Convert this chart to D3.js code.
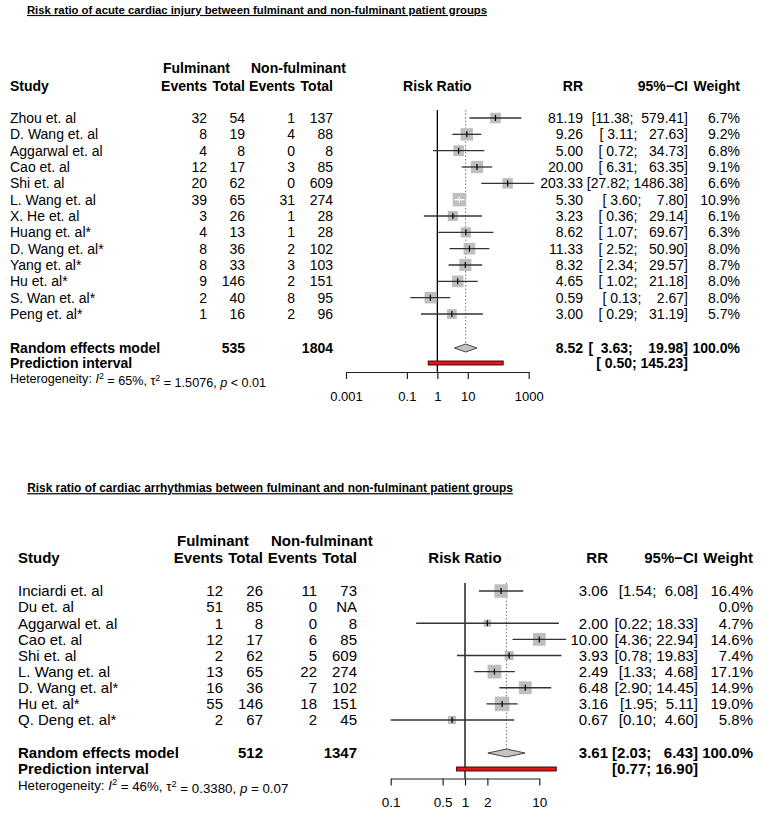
<!DOCTYPE html>
<html><head><meta charset="utf-8">
<script src="https://cdn.jsdelivr.net/npm/d3@7"></script>
<style>
body{margin:0;background:#fff}
svg text{font-family:"Liberation Sans",Arial,Helvetica,sans-serif;fill:#000}
</style>
</head><body>
<svg id="chart" width="764" height="814"></svg>
<script>
// ---------- Panel 1: acute cardiac injury ----------
const p1Title = "Risk ratio of acute cardiac injury between fulminant and non-fulminant patient groups";
const p1Studies = ["Zhou et. al","D. Wang et. al","Aggarwal et. al","Cao et. al","Shi et. al","L. Wang et. al","X. He et. al","Huang et. al*","D. Wang et. al*","Yang et. al*","Hu et. al*","S. Wan et. al*","Peng et. al*"];
const p1EventsF = [32,8,4,12,20,39,3,4,8,8,9,2,1];
const p1TotalF  = [54,19,8,17,62,65,26,13,36,33,146,40,16];
const p1EventsN = [1,4,0,3,0,31,1,1,2,3,2,8,2];
const p1TotalN  = [137,88,8,85,609,274,28,28,102,103,151,95,96];
const p1RR      = [81.19,9.26,5.00,20.00,203.33,5.30,3.23,8.62,11.33,8.32,4.65,0.59,3.00];
const p1Lower   = [11.38,3.11,0.72,6.31,27.82,3.60,0.36,1.07,2.52,2.34,1.02,0.13,0.29];
const p1Upper   = [579.41,27.63,34.73,63.35,1486.38,7.80,29.14,69.67,50.90,29.57,21.18,2.67,31.19];
const p1Weight  = [6.7,9.2,6.8,9.1,6.6,10.9,6.1,6.3,8.0,8.7,8.0,8.0,5.7];
const p1Summary = [8.52,3.63,19.98];       // RR, lower, upper
const p1Predict = [0.50,145.23];           // lower, upper
const p1Totals  = [535,1804];
const p1Het     = ["65%","1.5076","< 0.01"];
const p1Ticks   = [0.001,0.1,1,10,1000];
const p1TickLabels = ["0.001","0.1","1","10","1000"];

// ---------- Panel 2: cardiac arrhythmias ----------
const p2Title = "Risk ratio of cardiac arrhythmias between fulminant and non-fulminant patient groups";
const p2Studies = ["Inciardi et. al","Du et. al","Aggarwal et. al","Cao et. al","Shi et. al","L. Wang et. al","D. Wang et. al*","Hu et. al*","Q. Deng et. al*"];
const p2EventsF = [12,51,1,12,2,13,16,55,2];
const p2TotalF  = [26,85,8,17,62,65,36,146,67];
const p2EventsN = [11,0,0,6,5,22,7,18,2];
const p2TotalN  = [73,"NA",8,85,609,274,102,151,45];
const p2RR      = [3.06,null,2.00,10.00,3.93,2.49,6.48,3.16,0.67];
const p2Lower   = [1.54,null,0.22,4.36,0.78,1.33,2.90,1.95,0.10];
const p2Upper   = [6.08,null,18.33,22.94,19.83,4.68,14.45,5.11,4.60];
const p2Weight  = [16.4,0.0,4.7,14.6,7.4,17.1,14.9,19.0,5.8];
const p2Summary = [3.61,2.03,6.43];
const p2Predict = [0.77,16.90];
const p2Totals  = [512,1347];
const p2Het     = ["46%","0.3380","= 0.07"];
const p2Ticks   = [0.1,0.5,1,2,10];
const p2TickLabels = ["0.1","0.5","1","2","10"];

const svg = d3.select("#chart");

function txt(g, x, y, s, anchor, bold, size){
  return g.append("text").attr("x", x).attr("y", y).attr("dy","0.35em")
    .attr("text-anchor", anchor).attr("font-size", size)
    .attr("font-weight", bold ? "bold" : "normal")
    .style("white-space","pre").text(s);
}
function fmtCI(lo, hi, wl, wh){
  return "[" + lo.toFixed(2).padStart(wl," ") + "; " + hi.toFixed(2).padStart(wh," ") + "]";
}

function drawPanel(d, L){
  const g = svg.append("g");
  const fs = L.fs;
  // title
  g.append("text").attr("x", L.titleX).attr("y", L.titleY).attr("dy","0.35em")
    .attr("text-anchor","middle").attr("font-size", L.titleFs).attr("font-weight","bold")
    .attr("text-decoration","underline").text(d.title);

  // headers
  txt(g, L.colFEv - L.evW, L.head1Y, "Fulminant", "start", true, fs);
  txt(g, L.colNEv - L.evW, L.head1Y, "Non-fulminant", "start", true, fs);
  txt(g, L.studyX, L.head2Y, "Study", "start", true, fs);
  txt(g, L.colFEv, L.head2Y, "Events", "end", true, fs);
  txt(g, L.colFTot, L.head2Y, "Total", "end", true, fs);
  txt(g, L.colNEv, L.head2Y, "Events", "end", true, fs);
  txt(g, L.colNTot, L.head2Y, "Total", "end", true, fs);
  txt(g, (L.plotX0 + L.plotX1)/2, L.head2Y, "Risk Ratio", "middle", true, fs);
  txt(g, L.colRR, L.head2Y, "RR", "end", true, fs);
  txt(g, L.colCI, L.head2Y, "95%\u2212CI", "end", true, fs);
  txt(g, L.colW, L.head2Y, "Weight", "end", true, fs);

  const n = d.studies.length;
  const y = d3.scaleLinear().domain([0, n-1]).range([L.row0, L.rowN]);
  const x = d3.scaleLog().domain([d.ticks[0], d.ticks[d.ticks.length-1]]).range([L.plotX0, L.plotX1]);
  const wmax = d3.max(d.weight);

  // reference lines
  g.append("line").attr("x1", x(1)).attr("x2", x(1)).attr("y1", L.row0 - 8).attr("y2", L.axisY)
    .attr("stroke","#000").attr("stroke-width",1.3);
  g.append("line").attr("x1", x(d.summary[0])).attr("x2", x(d.summary[0]))
    .attr("y1", L.row0 - 8).attr("y2", L.sumY - 4)
    .attr("stroke","#777").attr("stroke-width",1).attr("stroke-dasharray","1.5,2");

  d.studies.forEach((s, i) => {
    const yy = y(i);
    txt(g, L.studyX, yy, s, "start", false, fs);
    txt(g, L.colFEv, yy, String(d.evF[i]), "end", false, fs);
    txt(g, L.colFTot, yy, String(d.totF[i]), "end", false, fs);
    txt(g, L.colNEv, yy, String(d.evN[i]), "end", false, fs);
    txt(g, L.colNTot, yy, String(d.totN[i]), "end", false, fs);
    txt(g, L.colW, yy, d.weight[i].toFixed(1) + "%", "end", false, fs);
    if (d.rr[i] == null) return;
    txt(g, L.colRR, yy, d.rr[i].toFixed(2), "end", false, fs);
    txt(g, L.colCI, yy, fmtCI(d.lo[i], d.hi[i], L.pad[0], L.pad[1]), "end", false, fs);
    const cx = x(d.rr[i]);
    const side = L.boxMax * Math.sqrt(d.weight[i] / wmax);
    g.append("rect").attr("x", cx - side/2).attr("y", yy - side/2)
      .attr("width", side).attr("height", side).attr("fill","#bebebe");
    const inside = x(d.lo[i]) >= cx - side/2 && x(d.hi[i]) <= cx + side/2;
    const col = inside ? "#fff" : "#333";
    g.append("line").attr("x1", x(d.lo[i])).attr("x2", x(d.hi[i]))
      .attr("y1", yy).attr("y2", yy).attr("stroke", col).attr("stroke-width", 1.3);
    g.append("line").attr("x1", cx).attr("x2", cx).attr("y1", yy - 3).attr("y2", yy + 3)
      .attr("stroke", inside ? "#fff" : "#000").attr("stroke-width", 1.2);
  });

  // summary
  txt(g, L.studyX, L.sumY, "Random effects model", "start", true, fs);
  txt(g, L.colFTot, L.sumY, String(d.totals[0]), "end", true, fs);
  txt(g, L.colNTot, L.sumY, String(d.totals[1]), "end", true, fs);
  txt(g, L.colRR, L.sumY, d.summary[0].toFixed(2), "end", true, fs);
  txt(g, L.colCI, L.sumY, fmtCI(d.summary[1], d.summary[2], L.sumPad[0], L.sumPad[1]), "end", true, fs);
  txt(g, L.colW, L.sumY, "100.0%", "end", true, fs);
  const dh = 4;
  g.append("path")
    .attr("d", `M${x(d.summary[1])},${L.sumY} L${x(d.summary[0])},${L.sumY - dh} L${x(d.summary[2])},${L.sumY} L${x(d.summary[0])},${L.sumY + dh} Z`)
    .attr("fill","#c4c4c4").attr("stroke","#444").attr("stroke-width",1);

  // prediction interval
  txt(g, L.studyX, L.predY, "Prediction interval", "start", true, fs);
  txt(g, L.colCI, L.predY, fmtCI(d.predict[0], d.predict[1], L.predPad[0], L.predPad[1]), "end", true, fs);
  g.append("rect").attr("x", x(d.predict[0])).attr("y", L.predY - 2)
    .attr("width", x(d.predict[1]) - x(d.predict[0])).attr("height", 4)
    .attr("fill","#e0161b").attr("stroke","#3a0000").attr("stroke-width",0.9);

  // heterogeneity
  const ht = g.append("text").attr("x", L.studyX).attr("y", L.hetY).attr("dy","0.35em")
    .attr("font-size", L.hetFs);
  ht.append("tspan").text("Heterogeneity: ");
  ht.append("tspan").attr("font-style","italic").text("I");
  ht.append("tspan").attr("dy","-0.45em").attr("font-size", L.hetFs*0.7).text("2");
  ht.append("tspan").attr("dy","0.45em").text(" = " + d.het[0] + ", \u03c4");
  ht.append("tspan").attr("dy","-0.45em").attr("font-size", L.hetFs*0.7).text("2");
  ht.append("tspan").attr("dy","0.45em").text(" = " + d.het[1] + ", ");
  ht.append("tspan").attr("font-style","italic").text("p");
  ht.append("tspan").text(" " + d.het[2]);

  // axis
  const axis = d3.axisBottom(x).tickValues(d.ticks)
    .tickFormat((v, i) => d.tickLabels[i]).tickSize(7).tickSizeOuter(0).tickPadding(L.tickPad);
  const ag = g.append("g").attr("transform", `translate(0,${L.axisY})`).call(axis);
  ag.select(".domain").attr("stroke","#222").attr("stroke-width",1.2);
  ag.selectAll(".tick line").attr("stroke","#222").attr("stroke-width",1.2);
  ag.selectAll(".tick text").attr("font-size", L.tickFs)
    .attr("font-family","Liberation Sans, Arial, sans-serif").attr("fill","#000");
}

drawPanel({
  title: p1Title, studies: p1Studies, evF: p1EventsF, totF: p1TotalF, evN: p1EventsN, totN: p1TotalN,
  rr: p1RR, lo: p1Lower, hi: p1Upper, weight: p1Weight, summary: p1Summary, predict: p1Predict,
  totals: p1Totals, het: p1Het, ticks: p1Ticks, tickLabels: p1TickLabels
}, {
  fs: 14, titleFs: 11.3, titleX: 257, titleY: 10, hetFs: 12.6, tickFs: 13, tickPad: 13,
  studyX: 10, colFEv: 207, colFTot: 245, colNEv: 295, colNTot: 333, evW: 44,
  colRR: 583, colCI: 688, colW: 740,
  head1Y: 68, head2Y: 86, row0: 118, rowN: 314, sumY: 348, predY: 363, hetY: 379,
  plotX0: 346, plotX1: 528.7, axisY: 372, boxMax: 13.5,
  pad: [5,7], sumPad: [6,8], predPad: [5,6]
});

drawPanel({
  title: p2Title, studies: p2Studies, evF: p2EventsF, totF: p2TotalF, evN: p2EventsN, totN: p2TotalN,
  rr: p2RR, lo: p2Lower, hi: p2Upper, weight: p2Weight, summary: p2Summary, predict: p2Predict,
  totals: p2Totals, het: p2Het, ticks: p2Ticks, tickLabels: p2TickLabels
}, {
  fs: 15, titleFs: 11.9, titleX: 270, titleY: 488, hetFs: 13.3, tickFs: 13.5, tickPad: 12,
  studyX: 18, colFEv: 223, colFTot: 263, colNEv: 317, colNTot: 357, evW: 46,
  colRR: 608, colCI: 698, colW: 753,
  head1Y: 541, head2Y: 558, row0: 591, rowN: 720, sumY: 753, predY: 769, hetY: 785,
  plotX0: 390.7, plotX1: 539.3, axisY: 778.5, boxMax: 14.5,
  pad: [4,5], sumPad: [4,6], predPad: [4,5]
});
</script>
</body></html>
